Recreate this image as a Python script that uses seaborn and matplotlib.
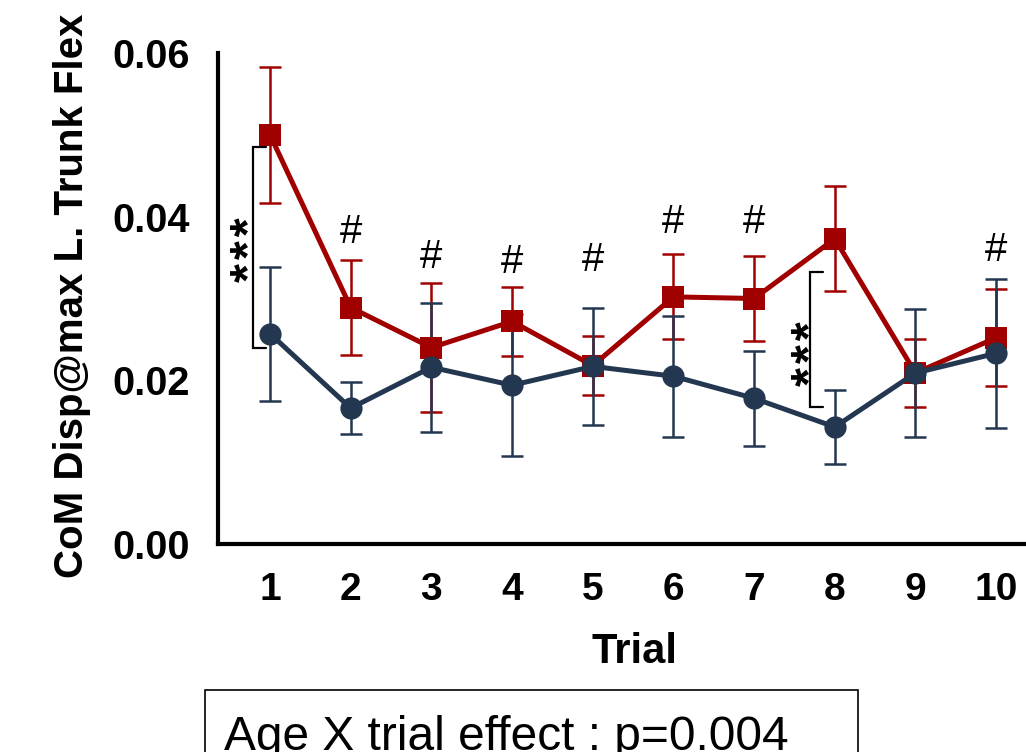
import matplotlib
matplotlib.use("Agg")
import matplotlib.pyplot as plt
from matplotlib.patches import Rectangle
import seaborn as sns
import pandas as pd
import numpy as np

# ---- data ----
trials = [1, 2, 3, 4, 5, 6, 7, 8, 9, 10]
red_mean = [0.0500, 0.0289, 0.0240, 0.0272, 0.0218, 0.0302, 0.0300, 0.0373, 0.0209, 0.0252]
red_sem = [0.0083, 0.0058, 0.0079, 0.0042, 0.0036, 0.0052, 0.0052, 0.0064, 0.0041, 0.0059]
navy_mean = [0.0257, 0.0166, 0.0216, 0.0194, 0.0217, 0.0205, 0.0178, 0.0143, 0.0209, 0.0233]
navy_sem = [0.0082, 0.0032, 0.0079, 0.0087, 0.0072, 0.0074, 0.0058, 0.0045, 0.0078, 0.0091]
yticks = [0.00, 0.02, 0.04, 0.06]
ytick_labels = ["0.00", "0.02", "0.04", "0.06"]
hash_trials = [2, 3, 4, 5, 6, 7, 10]
hash_heights = [0.0381, 0.0351, 0.0345, 0.0347, 0.0393, 0.0393, 0.0359]
ylabel = "CoM Disp@max L. Trunk Flex"
xlabel = "Trial"
note = "Age X trial effect : p=0.004"
stars = "*\u200a*\u200a*"

RED = "#A00000"
NAVY = "#233750"

sns.set_style("white")
plt.rcParams["font.family"] = ["Liberation Sans", "DejaVu Sans"]
plt.rcParams["text.color"] = "black"
plt.rcParams["axes.labelcolor"] = "black"
plt.rcParams["xtick.color"] = "black"
plt.rcParams["ytick.color"] = "black"

fig = plt.figure(figsize=(10.26, 7.52), dpi=100)
ax = fig.add_axes([218 / 1026, 1 - 544 / 752, (1026 - 218) / 1026, 491 / 752])

df = pd.DataFrame({
    "Trial": trials * 2,
    "value": red_mean + navy_mean,
    "group": ["red"] * len(trials) + ["navy"] * len(trials),
})

for grp, mean, sem, col, mk in [("red", red_mean, red_sem, RED, "s"),
                                ("navy", navy_mean, navy_sem, NAVY, "o")]:
    ax.errorbar(trials, mean, yerr=sem, fmt="none", ecolor=col, elinewidth=1.8,
                capsize=8, capthick=1.8, zorder=2)
    sns.lineplot(data=df[df["group"] == grp], x="Trial", y="value", ax=ax,
                 color=col, marker=mk, markersize=16, markeredgewidth=0,
                 linewidth=3.6, legend=False, zorder=3)

ax.set_xlim(0.355, 10.37)
ax.set_ylim(0, 0.06)
ax.set_xticks(trials)
ax.set_xticklabels([str(t) for t in trials], fontsize=28, fontweight="bold", color="black")
ax.set_yticks(yticks)
ax.set_yticklabels(ytick_labels, fontsize=28.5, fontweight="bold", color="black")
ax.tick_params(axis="both", length=14, width=3, direction="out", pad=6, color="black")
for s in ["top", "right"]:
    ax.spines[s].set_visible(False)
for s in ["left", "bottom"]:
    ax.spines[s].set_linewidth(3)
    ax.spines[s].set_color("black")

ax.set_xlabel(xlabel, fontsize=30, fontweight="bold", color="black")
ax.xaxis.set_label_coords(0.515, -0.18)
ax.set_ylabel(ylabel, fontsize=29, fontweight="bold", color="black")
ax.yaxis.set_label_coords(-0.157, 0.505)

# significance marks
for t, h in zip(hash_trials, hash_heights):
    ax.text(t, h, "#", ha="center", va="center", fontsize=29, color="black")

# brackets
def bracket(x, x_end, y0, y1):
    ax.plot([x_end, x, x, x_end], [y0, y0, y1, y1], color="black", lw=1.6,
            solid_joinstyle="miter", zorder=4)

bracket(0.79, 0.95, 0.0240, 0.0485)
ax.text(0.775, 0.0360, stars, rotation=90, ha="center", va="center",
        fontsize=35, fontweight="bold", color="black")
bracket(7.694, 7.855, 0.01674, 0.0332)
ax.text(7.725, 0.0232, stars, rotation=90, ha="center", va="center",
        fontsize=35, fontweight="bold", color="black")

# note box
fig.patches.append(Rectangle((205 / 1026, -0.05), (858 - 205) / 1026, 0.05 + (752 - 690) / 752,
                             transform=fig.transFigure, fill=False, edgecolor="black", lw=1.2))
fig.text(224 / 1026, 1 - 750 / 752, note, fontsize=34.5, va="baseline", ha="left", color="black")

fig.savefig("out.png", dpi=100)
